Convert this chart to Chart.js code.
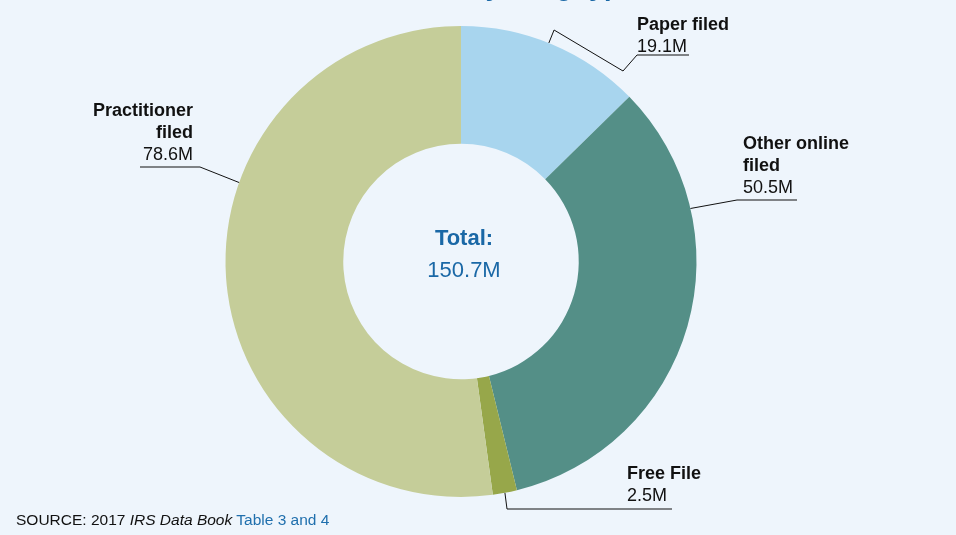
<!DOCTYPE html>
<html>
<head>
<meta charset="utf-8">
<title>Individual returns by filing type</title>
<script src="https://cdn.jsdelivr.net/npm/chart.js@4.4.1/dist/chart.umd.min.js"></script>
<style>
  html, body { margin: 0; padding: 0; background: #eef5fc; }
  #wrap { position: relative; width: 956px; height: 535px; overflow: hidden; }
  #source { position: absolute; left: 16px; top: 511px; font-family: Arial, "Liberation Sans", sans-serif; font-size: 15.5px; color: #111; white-space: nowrap; }
  #source a { color: #1f6fad; text-decoration: none; }
</style>
</head>
<body>
<div id="wrap">
  <canvas id="chart" width="956" height="535"></canvas>
  <div id="source">SOURCE: 2017 <i>IRS Data Book</i> <a>Table 3 and 4</a></div>
</div>
<script>
  // data (millions of returns), clockwise from 12 o'clock
  const categories = ['Paper filed', 'Other online filed', 'Free File', 'Practitioner filed'];
  const returnsM = [19.1, 50.5, 2.5, 78.6];
  const valueLabels = ['19.1M', '50.5M', '2.5M', '78.6M'];
  const totalLabel = '150.7M';
  const colors = ['#a8d5ee', '#548f87', '#97a74a', '#c5cd99'];

  // callout layout: where the leader leaves the slice (fraction of the arc),
  // its bends, and where the text sits
  const callouts = [
    { at: 0.48, out: 14, bends: [[623, 71], [637, 55], [689, 55]], x: 637, y: 30, align: 'left', lines: [['Paper filed', true], [valueLabels[0], false]] },
    { at: 0.26, out: 0, bends: [[737, 200], [797, 200]], x: 743, y: 149, align: 'left', lines: [['Other online', true], ['filed', true], [valueLabels[1], false]] },
    { at: 0.5, out: 0, bends: [[507, 509], [672, 509]], x: 627, y: 479, align: 'left', lines: [['Free File', true], [valueLabels[2], false]] },
    { at: 0.625, out: 0, bends: [[200, 167], [140, 167]], x: 193, y: 116, align: 'right', lines: [['Practitioner', true], ['filed', true], [valueLabels[3], false]] }
  ];

  const FONT = '"Liberation Sans", Arial, sans-serif';

  const overlay = {
    id: 'overlay',
    afterDraw(chart) {
      const ctx = chart.ctx;
      const meta = chart.getDatasetMeta(0);
      ctx.save();

      // leader lines + labels
      meta.data.forEach((arc, i) => {
        const c = callouts[i];
        const p = arc.getProps(['x', 'y', 'startAngle', 'endAngle', 'outerRadius'], true);
        const a = p.startAngle + c.at * (p.endAngle - p.startAngle);
        ctx.beginPath();
        ctx.moveTo(p.x + Math.cos(a) * p.outerRadius, p.y + Math.sin(a) * p.outerRadius);
        if (c.out) ctx.lineTo(p.x + Math.cos(a) * (p.outerRadius + c.out), p.y + Math.sin(a) * (p.outerRadius + c.out));
        c.bends.forEach(b => ctx.lineTo(b[0], b[1]));
        ctx.strokeStyle = '#111';
        ctx.lineWidth = 1;
        ctx.stroke();

        ctx.fillStyle = '#111';
        ctx.textAlign = c.align;
        ctx.textBaseline = 'alphabetic';
        c.lines.forEach((ln, k) => {
          ctx.font = (ln[1] ? 'bold ' : '') + '18px ' + FONT;
          ctx.fillText(ln[0], c.x, c.y + k * 22);
        });
      });

      // centre total
      const cx = meta.data[0].x, cy = meta.data[0].y;
      ctx.fillStyle = '#1a68a6';
      ctx.textAlign = 'center';
      ctx.font = 'bold 22px ' + FONT;
      ctx.fillText('Total:', cx + 3, cy - 16.5);
      ctx.font = '22px ' + FONT;
      ctx.fillText(totalLabel, cx + 3, cy + 15.5);

      // title, mostly cut off by the top edge
      ctx.font = 'bold 27px ' + FONT;
      ctx.textAlign = 'left';
      const pre = 'Individual income tax returns filed';
      const tx = 454 - ctx.measureText(pre).width;
      ctx.fillText(pre + ', by filing type, 2017', tx, -5);

      ctx.restore();
    }
  };

  new Chart(document.getElementById('chart'), {
    type: 'doughnut',
    data: {
      labels: categories,
      datasets: [{ data: returnsM, backgroundColor: colors, borderWidth: 0 }]
    },
    options: {
      responsive: false,
      animation: false,
      events: [],
      cutout: '50%',
      layout: { padding: { top: 26, bottom: 38, left: 0, right: 34 } },
      plugins: { legend: { display: false }, tooltip: { enabled: false } }
    },
    plugins: [overlay]
  });
</script>
</body>
</html>
